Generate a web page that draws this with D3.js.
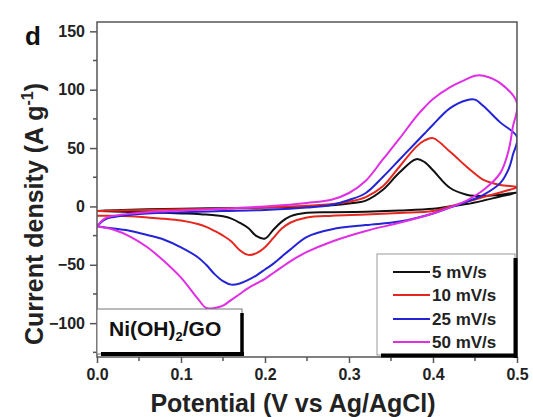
<!DOCTYPE html>
<html><head><meta charset="utf-8">
<script src="https://cdn.jsdelivr.net/npm/d3@7"></script>
<style>
html,body{margin:0;padding:0;background:#fff;}
svg{display:block;font-family:"Liberation Sans",Arial,sans-serif;font-weight:bold;}
</style></head><body>
<svg id="chart" width="533" height="417"></svg>
<script>
// ---- data ----
const seriesNames = ["5 mV/s", "10 mV/s", "25 mV/s", "50 mV/s"];
const seriesColors = ["#111111", "#e5271f", "#2424d6", "#e02ee4"];
const xTicks = [0.0, 0.1, 0.2, 0.3, 0.4, 0.5];
const yTicks = [-100, -50, 0, 50, 100, 150];

// anodic sweep potentials (V)
const potentialUp = [0, 0.01, 0.03, 0.06, 0.1, 0.15, 0.2, 0.25, 0.28, 0.3, 0.32, 0.34, 0.36, 0.38, 0.39, 0.4, 0.42, 0.44, 0.45, 0.46, 0.48, 0.5];
// cathodic sweep potentials (V)
const potentialDown = [0.5, 0.495, 0.49, 0.48, 0.46, 0.44, 0.42, 0.4, 0.36, 0.32, 0.28, 0.25, 0.23, 0.22, 0.21, 0.2, 0.19, 0.18, 0.17, 0.16, 0.15, 0.14, 0.13, 0.12, 0.1, 0.08, 0.06, 0.04, 0.02, 0];

const up5  = [-4, -3.5, -3, -2.5, -2, -1.5, -1, 0, 1, 2.5, 5, 14, 29, 40.5, 38, 31, 16, 10, 9, 9, 10, 12];
const up10 = [-4, -3.8, -3.5, -3, -2.5, -2, -1, 0.5, 2, 4, 8, 17, 34, 51, 56.5, 58.5, 47, 34, 28, 22.7, 18.4, 16.7];
const up25 = [-17, -11, -8, -6, -5, -4, -3, -1, 1.5, 5.5, 11.5, 25, 40, 55, 62.5, 70, 84, 91, 91.5, 86, 72, 59.5];
const up50 = [-17, -10, -7, -5, -3.5, -2, 0, 3, 6, 11.5, 22, 40, 58, 77, 85, 92, 102, 109, 112, 112, 105.6, 88.6];

const down5  = [12, 11, 10, 8.5, 5, 2, 0, -2, -3.5, -4.5, -5, -5.5, -8.5, -13, -20, -27.5, -25.5, -18.5, -14, -10.5, -8.5, -7.5, -7, -6.5, -6, -5.5, -5, -4.7, -4.3, -4];
const down10 = [16.7, 15, 14, 12, 8, 4, 0, -4, -5.6, -7, -8, -9.5, -14, -19, -27, -35, -40, -41.5, -37.5, -30, -25, -21, -17.5, -15, -12, -10.5, -9.5, -8.5, -8, -8];
const down25 = [59.5, 44, 32, 20, 10, 4, -1, -6, -13, -16, -19.5, -26, -37, -43, -49, -54, -59, -63, -66, -67, -64, -58, -50, -43.5, -35, -28.5, -24.5, -21, -19, -17];
const down50 = [88.6, 68, 48, 28.5, 14, 5, -1, -6, -14, -21, -30, -39, -47, -52, -57, -62, -66, -70, -75, -80, -85, -87, -87, -79, -61, -47, -35, -26, -20, -17];

const upSeries = [up5, up10, up25, up50];
const downSeries = [down5, down10, down25, down50];

// ---- layout ----
const svg = d3.select("#chart");
const L = 97, T = 22, R = 517, B = 357;
const x = d3.scaleLinear().domain([0, 0.5]).range([L, R]);
const y = d3.scaleLinear().domain([-129, 158]).range([B, T]);

svg.append("rect").attr("width", 533).attr("height", 417).attr("fill", "#fff");

svg.append("clipPath").attr("id", "clip").append("rect")
  .attr("x", L).attr("y", T).attr("width", R - L).attr("height", B - T);

// curves
const line = d3.line().x(d => x(d[0])).y(d => y(d[1])).curve(d3.curveCatmullRom.alpha(0.5));
const g = svg.append("g").attr("clip-path", "url(#clip)");
upSeries.forEach((u, i) => {
  const pts = potentialUp.map((v, k) => [v, u[k]])
    .concat(potentialDown.slice(1).map((v, k) => [v, downSeries[i][k + 1]]));
  g.append("path").attr("d", line(pts)).attr("fill", "none")
    .attr("stroke", seriesColors[i]).attr("stroke-width", 2).attr("stroke-linejoin", "round");
});

// axes
const frameColor = "#555";
const xAxis = d3.axisBottom(x).tickValues(xTicks).tickFormat(d3.format(".1f")).tickSize(6).tickPadding(6);
const yAxis = d3.axisLeft(y).tickValues(yTicks).tickFormat(d3.format("d")).tickSize(7).tickPadding(5);
const gx = svg.append("g").attr("transform", `translate(0,${B})`).call(xAxis);
const gy = svg.append("g").attr("transform", `translate(${L},0)`).call(yAxis);
[gx, gy].forEach(a => {
  a.select(".domain").remove();
  a.selectAll("line").attr("stroke", frameColor).attr("stroke-width", 1.5);
  a.selectAll("text").attr("font-size", 16).attr("font-weight", "bold").attr("fill", "#222")
    .attr("font-family", "Liberation Sans, Arial, sans-serif");
});
// minor ticks
const xMinor = d3.range(0.05, 0.5, 0.1);
svg.append("g").selectAll("line").data(xMinor).join("line")
  .attr("x1", d => x(d)).attr("x2", d => x(d)).attr("y1", B).attr("y2", B + 4)
  .attr("stroke", frameColor).attr("stroke-width", 1.5);
const yMinor = [-125, -75, -25, 25, 75, 125];
svg.append("g").selectAll("line").data(yMinor).join("line")
  .attr("x1", L - 4).attr("x2", L).attr("y1", d => y(d)).attr("y2", d => y(d))
  .attr("stroke", frameColor).attr("stroke-width", 1.5);

// frame
svg.append("rect").attr("x", L).attr("y", T).attr("width", R - L).attr("height", B - T)
  .attr("fill", "none").attr("stroke", frameColor).attr("stroke-width", 1.5);

// Ni(OH)2/GO label box
svg.append("rect").attr("x", L).attr("y", 309).attr("width", 145).attr("height", 45)
  .attr("fill", "#fff").attr("stroke", "#777").attr("stroke-width", 1);
svg.append("line").attr("x1", 242).attr("x2", 242).attr("y1", 313).attr("y2", 356)
  .attr("stroke", "#000").attr("stroke-width", 3.5);
svg.append("line").attr("x1", 101).attr("x2", 244).attr("y1", 354).attr("y2", 354)
  .attr("stroke", "#000").attr("stroke-width", 4);
const lab = svg.append("text").attr("x", 109).attr("y", 336).attr("font-size", 21).attr("fill", "#111");
lab.append("tspan").text("Ni(OH)");
lab.append("tspan").text("2").attr("font-size", 13).attr("dy", 5);
lab.append("tspan").text("/GO").attr("dy", -5);

// legend box
svg.append("rect").attr("x", 377).attr("y", 254).attr("width", 138).attr("height", 101)
  .attr("fill", "#fff").attr("stroke", "#999").attr("stroke-width", 1);
svg.append("line").attr("x1", 515.5).attr("x2", 515.5).attr("y1", 258).attr("y2", 358)
  .attr("stroke", "#000").attr("stroke-width", 4);
svg.append("line").attr("x1", 381).attr("x2", 517).attr("y1", 355.5).attr("y2", 355.5)
  .attr("stroke", "#000").attr("stroke-width", 4);
const legY = [272, 295, 319, 342];
seriesNames.forEach((n, i) => {
  svg.append("line").attr("x1", 393).attr("x2", 430).attr("y1", legY[i]).attr("y2", legY[i])
    .attr("stroke", seriesColors[i]).attr("stroke-width", 2);
  svg.append("text").attr("x", 432).attr("y", legY[i]).attr("dy", "0.36em")
    .attr("font-size", 17).attr("fill", "#222").text(n);
});

// axis titles
svg.append("text").attr("x", 293).attr("y", 412).attr("text-anchor", "middle")
  .attr("font-size", 25).attr("fill", "#222").text("Potential (V vs Ag/AgCl)");
const yt = svg.append("text").attr("transform", "translate(43,214) rotate(-90)")
  .attr("text-anchor", "middle").attr("font-size", 25).attr("fill", "#222");
yt.append("tspan").text("Current density (A g");
yt.append("tspan").text("-1").attr("font-size", 16).attr("dy", -10);
yt.append("tspan").text(")").attr("dy", 10);

// panel letter
svg.append("text").attr("x", 25).attr("y", 45).attr("font-size", 26).attr("fill", "#111").text("d");
</script>
</body></html>
